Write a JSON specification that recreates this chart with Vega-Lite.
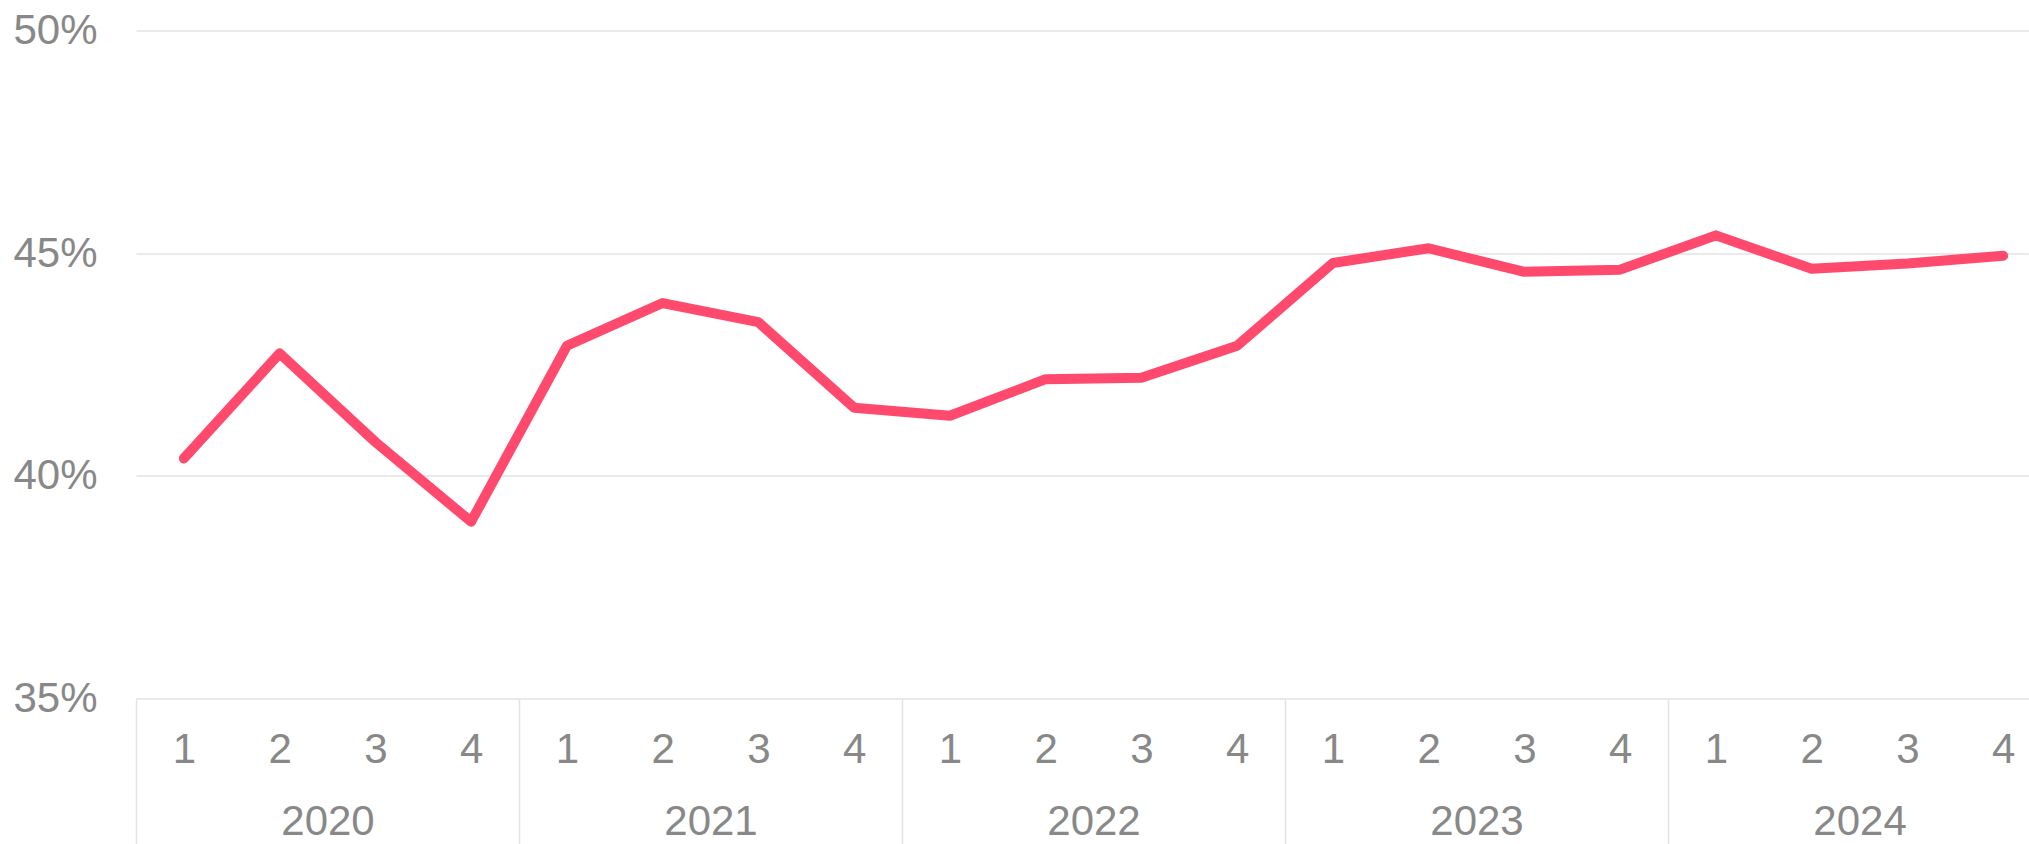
{
  "$schema": "https://vega.github.io/schema/vega-lite/v6.json",
  "autosize": "none",
  "padding": {"left": 136, "top": 30.5, "right": 0, "bottom": 145.5},
  "width": 1893,
  "height": 668,
  "background": "white",
  "config": {
    "view": {"stroke": null},
    "font": "Liberation Sans",
    "axis": {"labelFont": "Liberation Sans", "labelColor": "#888888", "labelFontSize": 42, "title": null}
  },
  "data": {
    "values": [
      {"t": 1, "year": 2020, "quarter": 1, "share": 0.4039},
      {"t": 2, "year": 2020, "quarter": 2, "share": 0.4275},
      {"t": 3, "year": 2020, "quarter": 3, "share": 0.4076},
      {"t": 4, "year": 2020, "quarter": 4, "share": 0.3897},
      {"t": 5, "year": 2021, "quarter": 1, "share": 0.4292},
      {"t": 6, "year": 2021, "quarter": 2, "share": 0.4388},
      {"t": 7, "year": 2021, "quarter": 3, "share": 0.4345},
      {"t": 8, "year": 2021, "quarter": 4, "share": 0.4153},
      {"t": 9, "year": 2022, "quarter": 1, "share": 0.4135},
      {"t": 10, "year": 2022, "quarter": 2, "share": 0.4217},
      {"t": 11, "year": 2022, "quarter": 3, "share": 0.4220},
      {"t": 12, "year": 2022, "quarter": 4, "share": 0.4292},
      {"t": 13, "year": 2023, "quarter": 1, "share": 0.4478},
      {"t": 14, "year": 2023, "quarter": 2, "share": 0.4511},
      {"t": 15, "year": 2023, "quarter": 3, "share": 0.4458},
      {"t": 16, "year": 2023, "quarter": 4, "share": 0.4463},
      {"t": 17, "year": 2024, "quarter": 1, "share": 0.4540},
      {"t": 18, "year": 2024, "quarter": 2, "share": 0.4465},
      {"t": 19, "year": 2024, "quarter": 3, "share": 0.4477},
      {"t": 20, "year": 2024, "quarter": 4, "share": 0.4494}
    ]
  },
  "layer": [
    {
      "mark": {"type": "line", "color": "#ff4a6e", "strokeWidth": 10, "strokeCap": "round", "strokeJoin": "round", "clip": false},
      "encoding": {
        "x": {
          "field": "t", "type": "quantitative",
          "scale": {"domain": [0.5, 20.27], "nice": false, "zero": false},
          "axis": {
            "orient": "bottom",
            "values": [1,2,3,4,5,6,7,8,9,10,11,12,13,14,15,16,17,18,19,20],
            "labelExpr": "'' + ((datum.value - 1) % 4 + 1)",
            "grid": false, "ticks": false,
            "domain": false,
            "labelBaseline": "middle",
            "labelPadding": 51,
            "labelFlush": false,
            "labelOverlap": false
          }
        },
        "y": {
          "field": "share", "type": "quantitative",
          "scale": {"domain": [0.35, 0.5], "nice": false, "zero": false},
          "axis": {
            "values": [0.35, 0.40, 0.45, 0.50],
            "format": ".0%",
            "grid": true, "gridColor": "#e3e3e3", "gridWidth": 1.5,
            "domain": false, "ticks": false,
            "labelPadding": 39,
            "labelBaseline": "middle"
          }
        }
      }
    },
    {
      "mark": {"type": "point", "opacity": 0},
      "encoding": {
        "x": {
          "field": "t", "type": "quantitative",
          "axis": {
            "orient": "bottom",
            "values": [2.5, 6.5, 10.5, 14.5, 18.5],
            "labelExpr": "'' + (2020 + floor((datum.value - 0.5) / 4))",
            "grid": false, "ticks": false, "domain": false,
            "labelBaseline": "middle",
            "labelPadding": 123,
            "labelFlush": false,
            "labelOverlap": false
          }
        }
      }
    },
    {
      "mark": {"type": "point", "opacity": 0},
      "encoding": {
        "x": {
          "field": "t", "type": "quantitative",
          "axis": {
            "orient": "bottom",
            "values": [0.5, 4.5, 8.5, 12.5, 16.5],
            "labels": false,
            "grid": false, "domain": false,
            "ticks": true, "tickSize": 150, "tickColor": "#e3e3e3", "tickWidth": 1.5
          }
        }
      }
    }
  ],
  "resolve": {"axis": {"x": "independent"}}
}
